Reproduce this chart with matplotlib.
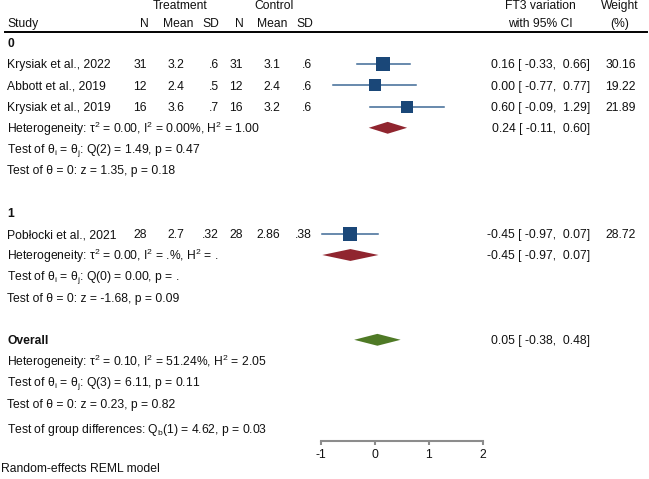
import matplotlib
matplotlib.use("Agg")
import matplotlib.pyplot as plt
from matplotlib.transforms import blended_transform_factory

plt.rcParams['font.family'] = ['Liberation Sans', 'DejaVu Sans']
plt.rcParams['mathtext.fontset'] = 'custom'
plt.rcParams['mathtext.rm'] = 'Liberation Sans'
plt.rcParams['mathtext.it'] = 'Liberation Sans'
plt.rcParams['mathtext.bf'] = 'Liberation Sans:bold'

# study level data
studies = ["Krysiak et al., 2022", "Abbott et al., 2019", "Krysiak et al., 2019", "Pobłocki et al., 2021"]
study_group = [0, 0, 0, 1]
n_treat = ["31", "12", "16", "28"]
mean_treat = ["3.2", "2.4", "3.6", "2.7"]
sd_treat = [".6", ".5", ".7", ".32"]
n_ctrl = ["31", "12", "16", "28"]
mean_ctrl = ["3.1", "2.4", "3.2", "2.86"]
sd_ctrl = [".6", ".6", ".6", ".38"]
effect = [0.16, 0.00, 0.60, -0.45]
ci_low = [-0.33, -0.77, -0.09, -0.97]
ci_high = [0.66, 0.77, 1.29, 0.07]
weight = [30.16, 19.22, 21.89, 28.72]

# subgroup summaries
groups = ["0", "1"]
group_effect = [0.24, -0.45]
group_low = [-0.11, -0.97]
group_high = [0.60, 0.07]
group_het = [r"Heterogeneity: τ$^2$ = 0.00, I$^2$ = 0.00%, H$^2$ = 1.00",
             r"Heterogeneity: τ$^2$ = 0.00, I$^2$ = .%, H$^2$ = ."]
group_q = [r"Test of θ$_i$ = θ$_j$: Q(2) = 1.49, p = 0.47",
           r"Test of θ$_i$ = θ$_j$: Q(0) = 0.00, p = ."]
group_z = ["Test of θ = 0: z = 1.35, p = 0.18",
           "Test of θ = 0: z = -1.68, p = 0.09"]

# overall
overall_effect, overall_low, overall_high = 0.05, -0.38, 0.48
overall_stats = [r"Heterogeneity: τ$^2$ = 0.10, I$^2$ = 51.24%, H$^2$ = 2.05",
                 r"Test of θ$_i$ = θ$_j$: Q(3) = 6.11, p = 0.11",
                 "Test of θ = 0: z = 0.23, p = 0.82"]
group_diff = r"Test of group differences: Q$_b$(1) = 4.62, p = 0.03"
x_ticks = [-1, 0, 1, 2]

W, H = 649, 479
fig = plt.figure(figsize=(W / 100, H / 100), dpi=100)
# forest panel: x from -1 to 2, y in row units (row 0 = first group label)
ax = fig.add_axes([320.7 / W, 0, 162 / W, 1])
ax.set_xlim(-1, 2)
ax.set_ylim((H - 43) / 21.2, -43 / 21.2)
ax.patch.set_visible(False)
for s in ['top', 'left', 'right']:
    ax.spines[s].set_visible(False)
ax.spines['bottom'].set_position(('data', 18.77))
ax.spines['bottom'].set_color('#8c8c8c')
ax.spines['bottom'].set_linewidth(1.5)
ax.set_yticks([])
ax.set_xticks(x_ticks)
ax.set_xticklabels([str(t) for t in x_ticks])
ax.tick_params(axis='x', direction='out', length=3, width=1.5, color='#8c8c8c',
               labelsize=8.7, pad=3, labelcolor='#111111')

tr = blended_transform_factory(fig.transFigure, ax.transData)
FS = 8.7


def txt(px, row, s, ha='left', **kw):
    fig.text(px / W, row + 0.06, s, ha=ha, va='center', fontsize=FS, transform=tr,
             color='#111111', **kw)


SQ = '#1a4778'
WH = '#3e6a96'
RED = '#90252f'
GREEN = '#4f7a26'


def diamond(est, lo, hi, row, color):
    h = 0.28
    ax.fill([lo, est, hi, est], [row, row - h, row, row + h], color=color, lw=0, clip_on=False)


def ci_text(est, lo, hi):
    return f"{est:.2f} [ {lo:.2f},  {hi:.2f}]"


# header
txt(180, -1.79, "Treatment", ha='center')
txt(274, -1.79, "Control", ha='center')
txt(540, -1.79, "FT3 variation", ha='center')
txt(620, -1.79, "Weight", ha='center')
txt(7, -0.94, "Study")
for px, lab in zip([144, 178, 211, 239, 272, 305], ["N", "Mean", "SD", "N", "Mean", "SD"]):
    txt(px, -0.94, lab, ha='center')
txt(540, -0.94, "with 95% CI", ha='center')
txt(620, -0.94, "(%)", ha='center')
fig.add_artist(plt.Line2D([5 / W, 647 / W], [1 - 31.5 / H, 1 - 31.5 / H], color='black', lw=1.4))

row = 0
for g, gname in enumerate(groups):
    txt(7, row, gname, fontweight='bold')
    row += 1
    for i in range(len(studies)):
        if study_group[i] != g:
            continue
        txt(7, row, studies[i])
        txt(147, row, n_treat[i], ha='right')
        txt(184, row, mean_treat[i], ha='right')
        txt(219, row, sd_treat[i], ha='right')
        txt(243, row, n_ctrl[i], ha='right')
        txt(280, row, mean_ctrl[i], ha='right')
        txt(312, row, sd_ctrl[i], ha='right')
        ax.plot([ci_low[i], ci_high[i]], [row, row], color=WH, lw=1.1, clip_on=False)
        side = 2.73 * weight[i] ** 0.5 * 0.72
        ax.scatter([effect[i]], [row], marker='s', s=side ** 2, color=SQ, lw=0, zorder=3, clip_on=False)
        txt(590, row, ci_text(effect[i], ci_low[i], ci_high[i]), ha='right')
        txt(636, row, f"{weight[i]:.2f}", ha='right')
        row += 1
    txt(7, row, group_het[g])
    diamond(group_effect[g], group_low[g], group_high[g], row, RED)
    txt(590, row, ci_text(group_effect[g], group_low[g], group_high[g]), ha='right')
    txt(7, row + 1, group_q[g])
    txt(7, row + 2, group_z[g])
    row += 4

txt(7, row, "Overall", fontweight='bold')
diamond(overall_effect, overall_low, overall_high, row, GREEN)
txt(590, row, ci_text(overall_effect, overall_low, overall_high), ha='right')
for k, s in enumerate(overall_stats):
    txt(7, row + 1 + k, s)
txt(7, row + 4.2, group_diff)
txt(1, row + 6.05, "Random-effects REML model")

fig.savefig("out.png", dpi=100)
